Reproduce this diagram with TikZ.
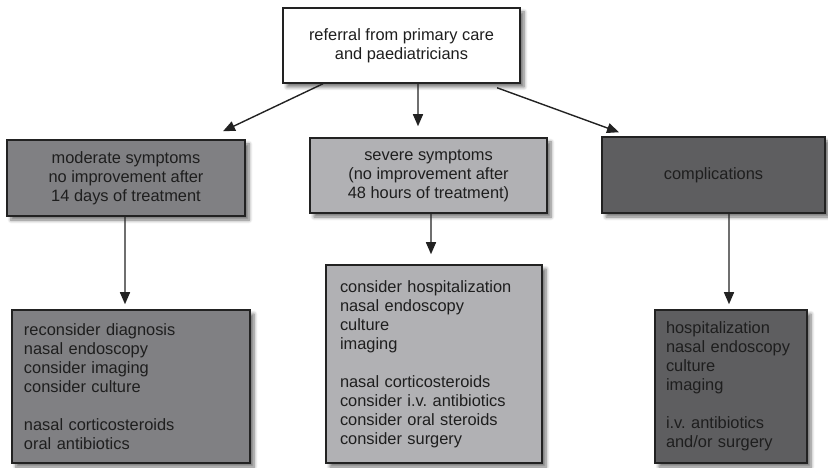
\documentclass[tikz,border=0pt]{standalone}
\usepackage{fontspec}
\setmainfont{Liberation Sans}
\frenchspacing
\usetikzlibrary{arrows.meta,shadows.blur}
\definecolor{txt}{HTML}{1E1E1E}
\definecolor{modfill}{HTML}{808083}
\definecolor{sevfill}{HTML}{B1B1B4}
\definecolor{compfill}{HTML}{5E5E60}
\definecolor{edge}{HTML}{222222}
\begin{document}
\begin{tikzpicture}[x=1bp,y=-1bp,
  box/.style={draw=edge, line width=1.5bp, text=txt, inner sep=0pt,
    font=\fontsize{16.4bp}{19bp}\selectfont\frenchspacing,
    blur shadow={shadow xshift=4bp, shadow yshift=-4bp, shadow blur steps=6, shadow opacity=55, shadow blur radius=3.5bp}},
  headbox/.style={box, align=center},
  listbox/.style={box, align=left},
  arr/.style={draw=edge, line width=1.4bp, -{Triangle[length=12bp,width=10bp]}}
]
\useasboundingbox (0,0) rectangle (828,468);

\node[headbox, fill=white, minimum width=237bp, minimum height=75bp] (top) at (401.5,45.5)
  {referral from primary care\\and paediatricians};

\node[headbox, fill=modfill, minimum width=238bp, minimum height=76bp] (mod) at (126,178)
  {moderate symptoms\\no improvement after\\14 days of treatment};
\node[headbox, fill=sevfill, minimum width=237bp, minimum height=75bp] (sev) at (428.5,175.5)
  {severe symptoms\\(no improvement after\\48 hours of treatment)};
\node[headbox, fill=compfill, minimum width=223bp, minimum height=76bp] (comp) at (713.5,175)
  {complications};

\node[listbox, fill=modfill, text width=214bp, inner xsep=12bp, minimum height=153bp] (bl) at (131,386.5)
  {reconsider diagnosis\\nasal endoscopy\\consider imaging\\consider culture\\[19bp]nasal corticosteroids\\oral antibiotics};
\node[listbox, fill=sevfill, text width=188bp, inner xsep=14bp, minimum height=198bp] (bc) at (434,364)
  {consider hospitalization\\nasal endoscopy\\culture\\imaging\\[19bp]nasal corticosteroids\\consider i.v. antibiotics\\consider oral steroids\\consider surgery};
\node[listbox, fill=compfill, text width=130bp, inner xsep=11bp, minimum height=153bp] (br) at (731,386.5)
  {hospitalization\\nasal endoscopy\\culture\\imaging\\[19bp]i.v. antibiotics\\and/or surgery};

\draw[arr] ([xshift=-78.5bp]top.south) -- ([xshift=97bp,yshift=8bp]mod.north);
\draw[arr] ([xshift=16.5bp]top.south) -- ([xshift=-10.5bp,yshift=11bp]sev.north);
\draw[arr] ([xshift=95.5bp,yshift=-4bp]top.south) -- ([xshift=-94.5bp,yshift=4bp]comp.north);

\draw[arr] ([xshift=-1bp]mod.south) -- ([xshift=-6bp,yshift=5bp]bl.north);
\draw[arr] ([xshift=2.5bp]sev.south) -- ([xshift=-3bp,yshift=10bp]bc.north);
\draw[arr] ([xshift=15.5bp]comp.south) -- ([xshift=-2bp,yshift=5bp]br.north);
\end{tikzpicture}
\end{document}
